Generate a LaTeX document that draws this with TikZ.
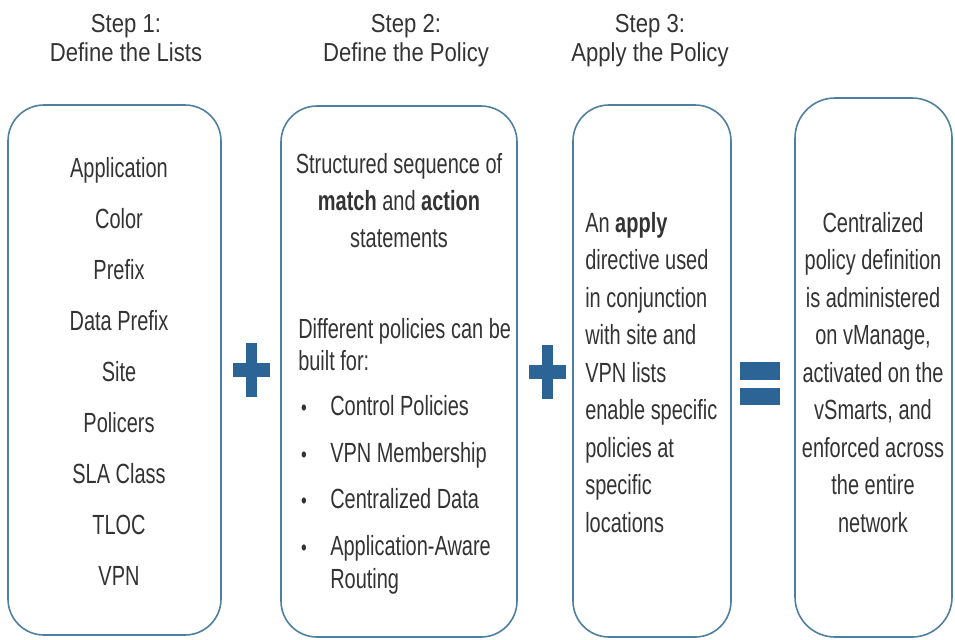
\documentclass[tikz,border=0pt]{standalone}
\usepackage{fontspec}
\setmainfont{Liberation Sans}[FakeStretch=0.72]
\newfontfamily\headfont{Liberation Sans}[FakeStretch=0.85]
\definecolor{boxline}{HTML}{4F7FA0}
\definecolor{signblue}{HTML}{2C6496}
\definecolor{txt}{HTML}{333333}

\begin{document}
\begin{tikzpicture}[x=0.75pt,y=-0.75pt,
    stepbox/.style={draw=boxline, line width=1.2pt, rounded corners=27pt},
    head/.style={font=\headfont\fontsize{19.5}{23}\selectfont, text=txt, inner sep=0pt, anchor=base},
    body/.style={font=\fontsize{20.8}{24}\selectfont, text=txt, inner sep=0pt, anchor=base},
    bodyl/.style={body, anchor=base west},
    dot/.style={font=\fontsize{17}{19}\selectfont, text=txt, inner sep=0pt, anchor=base}]
  % pixel grid of the page, y downwards
  \useasboundingbox (0,0) rectangle (955,639);
  \def\LS{51}     % line step in box 1
  \def\MS{37.5}   % line step in boxes 3 and 4
  % headings
  \foreach \n/\x/\t in {1/126/Define the Lists, 2/406/Define the Policy, 3/650/Apply the Policy}{
     \node[head] (step\n) at (\x,32) {Step \n:};
     \node[head] (title\n) at (\x,61) {\t};}
  % the four boxes
  \draw[stepbox] (8,105) rectangle (221,635);
  \draw[stepbox] (281,106) rectangle (517,637);
  \draw[stepbox] (573,105) rectangle (731,637);
  \draw[stepbox, rounded corners=30pt] (795,98) rectangle (952,637);
  % box 1: lists
  \foreach \t [count=\i] in {Application,Color,Prefix,Data Prefix,Site,Policers,SLA Class,TLOC,VPN}
     \node[body] (list\i) at (119,{177+\LS*(\i-1)}) {\t};
  % box 2: policy
  \node[body] (seq1) at (399,173) {Structured sequence of};
  \node[body] (seq2) at (399,210) {\textbf{match} and \textbf{action}};
  \node[body] (seq3) at (399,247) {statements};
  \node[bodyl] (diff1) at (298,338) {Different policies can be};
  \node[bodyl] (diff2) at (298,370) {built for:};
  \foreach \t/\y [count=\i] in {Control Policies/415, VPN Membership/462, Centralized Data/508, Application-Aware/555}{
     \node[dot] (dot\i) at (304,\y) {•};
     \node[bodyl] (kind\i) at (330,\y) {\t};}
  \node[bodyl] (kind5) at (330,588) {Routing};
  % box 3: apply
  \foreach \t [count=\i] in {An \textbf{apply},directive used,in conjunction,with site and,VPN lists,enable specific,policies at,specific,locations}
     \node[bodyl] (apply\i) at (585,{232+\MS*(\i-1)}) {\t};
  % box 4: result
  \foreach \t [count=\i] in {Centralized,policy definition,is administered,{on vManage,},activated on the,{vSmarts, and},enforced across,the entire,network}
     \node[body] (result\i) at (873,{232+\MS*(\i-1)}) {\t};
  % plus and equal signs
  \foreach \cx/\cy in {251.5/370, 547.5/372}{
     \fill[signblue] ({\cx-5.5},{\cy-27}) rectangle ({\cx+5.5},{\cy+27});
     \fill[signblue] ({\cx-18.5},{\cy-7}) rectangle ({\cx+18.5},{\cy+7});}
  \fill[signblue] (740,362) rectangle (780,380);
  \fill[signblue] (740,388) rectangle (780,405);
\end{tikzpicture}
\end{document}
